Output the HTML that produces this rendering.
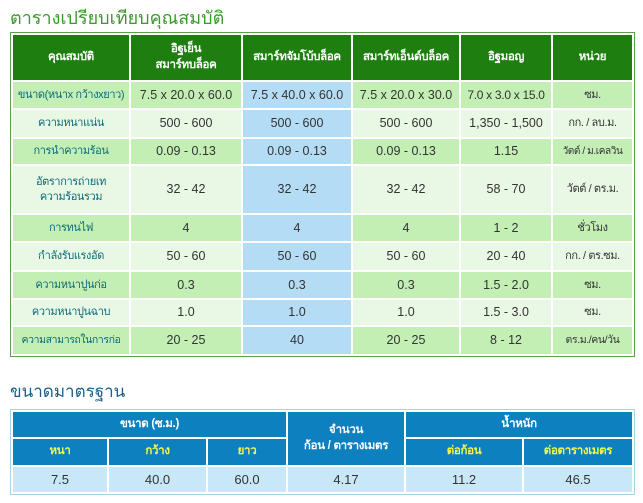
<!DOCTYPE html>
<html><head><meta charset="utf-8">
<style>
body{margin:0;width:643px;height:503px;background:#fff;position:relative;overflow:hidden;font-family:"Liberation Sans","Noto Sans CJK SC",sans-serif;}
.t1{position:absolute;left:10px;top:3px;font-size:18px;color:#3a9a2a;white-space:nowrap;}
.t2{position:absolute;left:10px;top:378px;font-size:17px;color:#1b5e8c;white-space:nowrap;}
table{position:absolute;border-collapse:separate;table-layout:fixed;}
td,th{padding:0;text-align:center;font-size:12.5px;line-height:1.35;white-space:nowrap;overflow:hidden;}
#cmp{left:10px;top:32px;border:1px solid #5e9e4e;border-spacing:2px;background:#fff;}
#cmp th{background:#1e7f10;color:#fff;font-weight:bold;font-size:11.5px;letter-spacing:-0.3px;}
#cmp td{color:#333;}
#cmp td.k{color:#0b6a7a;font-size:11px;letter-spacing:-0.4px;}
#cmp td.u{font-size:11px;letter-spacing:-0.4px;}
#cmp tr.a td{background:#c3efb5;}
#cmp tr.b td{background:#e9f8e4;}
#cmp tr td.bl{background:#b5dcf5;}
#std{left:10px;top:409px;border:1px solid #a8d4e8;border-spacing:2px;}
#std th{background:#0d80c0;color:#fff;font-weight:bold;font-size:11.5px;letter-spacing:-0.3px;}
#std th.y{color:#f4f84a;}
#std td{background:#c8e8f8;color:#333;font-size:13px;}
</style></head><body>
<div class="t1">ตารางเปรียบเทียบคุณสมบัติ</div>
<table id="cmp">
<colgroup><col style="width:116px"><col style="width:110px"><col style="width:108px"><col style="width:106px"><col style="width:90px"><col style="width:79px"></colgroup>
<tr style="height:45px"><th>คุณสมบัติ</th><th>อิฐเย็น<br>สมาร์ทบล็อค</th><th>สมาร์ทจัมโบ้บล็อค</th><th>สมาร์ทเอ็นด์บล็อค</th><th>อิฐมอญ</th><th>หน่วย</th></tr>
<tr class="a" style="height:26px"><td class="k">ขนาด(หนาx กว้างxยาว)</td><td>7.5 x 20.0 x 60.0</td><td class="bl">7.5 x 40.0 x 60.0</td><td>7.5 x 20.0 x 30.0</td><td style="font-size:12px;letter-spacing:-0.3px">7.0 x 3.0 x 15.0</td><td class="u">ซม.</td></tr>
<tr class="b" style="height:27px"><td class="k">ความหนาแน่น</td><td>500 - 600</td><td class="bl">500 - 600</td><td>500 - 600</td><td>1,350 - 1,500</td><td class="u">กก. / ลบ.ม.</td></tr>
<tr class="a" style="height:25px"><td class="k">การนำความร้อน</td><td>0.09 - 0.13</td><td class="bl">0.09 - 0.13</td><td>0.09 - 0.13</td><td>1.15</td><td class="u" style="font-size:10px">วัตต์ / ม.เคลวิน</td></tr>
<tr class="b" style="height:47px"><td class="k">อัตราการถ่ายเท<br>ความร้อนรวม</td><td>32 - 42</td><td class="bl">32 - 42</td><td>32 - 42</td><td>58 - 70</td><td class="u">วัตต์ / ตร.ม.</td></tr>
<tr class="a" style="height:26px"><td class="k">การทนไฟ</td><td>4</td><td class="bl">4</td><td>4</td><td>1 - 2</td><td class="u">ชั่วโมง</td></tr>
<tr class="b" style="height:27px"><td class="k">กำลังรับแรงอัด</td><td>50 - 60</td><td class="bl">50 - 60</td><td>50 - 60</td><td>20 - 40</td><td class="u">กก. / ตร.ซม.</td></tr>
<tr class="a" style="height:26px"><td class="k">ความหนาปูนก่อ</td><td>0.3</td><td class="bl">0.3</td><td>0.3</td><td>1.5 - 2.0</td><td class="u">ซม.</td></tr>
<tr class="b" style="height:25px"><td class="k">ความหนาปูนฉาบ</td><td>1.0</td><td class="bl">1.0</td><td>1.0</td><td>1.5 - 3.0</td><td class="u">ซม.</td></tr>
<tr class="a" style="height:27px"><td class="k" style="font-size:10.5px">ความสามารถในการก่อ</td><td>20 - 25</td><td class="bl">40</td><td>20 - 25</td><td>8 - 12</td><td class="u" style="font-size:10.5px">ตร.ม./คน/วัน</td></tr>
</table>
<div class="t2">ขนาดมาตรฐาน</div>
<table id="std">
<colgroup><col style="width:94px"><col style="width:97px"><col style="width:78px"><col style="width:116px"><col style="width:116px"><col style="width:108px"></colgroup>
<tr style="height:25px"><th colspan="3">ขนาด (ซ.ม.)</th><th rowspan="2">จำนวน<br>ก้อน / ตารางเมตร</th><th colspan="2">น้ำหนัก</th></tr>
<tr style="height:26px"><th class="y">หนา</th><th class="y">กว้าง</th><th class="y">ยาว</th><th class="y">ต่อก้อน</th><th class="y">ต่อตารางเมตร</th></tr>
<tr style="height:25px"><td>7.5</td><td>40.0</td><td>60.0</td><td>4.17</td><td>11.2</td><td>46.5</td></tr>
</table>
</body></html>
